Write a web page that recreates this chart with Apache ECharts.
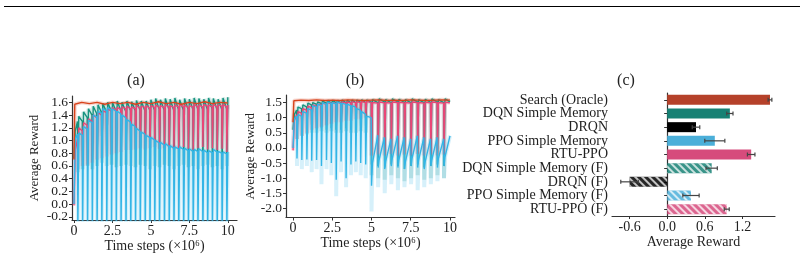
<!DOCTYPE html>
<html>
<head>
<meta charset="utf-8">
<script src="https://cdn.jsdelivr.net/npm/echarts/dist/echarts.min.js"></script>
<style>
    body { margin: 0; background: #fff; }
    #chart { width: 804px; height: 256px; }
</style>
</head>
<body>
<div id="chart"></div>
<script>
// ---- panel (a) ----
var resetsA = [0.25, 0.56, 0.88, 1.19, 1.5, 1.81, 2.13, 2.44, 2.75, 3.06, 3.38, 3.69, 4.0, 4.31, 4.63, 4.94,
    5.25, 5.56, 5.88, 6.19, 6.5, 6.81, 7.13, 7.44, 7.75, 8.06, 8.38, 8.69, 9.0, 9.31, 9.63, 9.94];

var ppoStartA = [[0, 0.0], [0.08, 1.02], [0.23, 1.1]];
var ppoLoA = [-0.35, -0.4, -0.45, -0.4, -0.5, -0.45, -0.4, -0.5, -0.45, -0.4, -0.45, -0.5, -0.4, -0.45, -0.5, -0.4,
    -0.45, -0.4, -0.5, -0.45, -0.4, -0.45, -0.5, -0.4, -0.45, -0.4, -0.5, -0.45, -0.4, -0.45, -0.5, -0.4];
var ppoHiA = [1.12, 1.22, 1.32, 1.4, 1.46, 1.5, 1.52, 1.5, 1.46, 1.4, 1.33, 1.26, 1.19, 1.13, 1.08, 1.05,
    1.0, 0.97, 0.95, 0.92, 0.9, 0.9, 0.88, 0.87, 0.86, 0.87, 0.85, 0.84, 0.86, 0.83, 0.82, 0.82];
var ppoPreA = [1.08, 1.18, 1.28, 1.37, 1.43, 1.47, 1.48, 1.46, 1.42, 1.36, 1.29, 1.22, 1.15, 1.1, 1.05, 1.01,
    0.96, 0.93, 0.91, 0.88, 0.87, 0.86, 0.84, 0.83, 0.83, 0.83, 0.81, 0.81, 0.82, 0.8, 0.79, 0.8];

var rtuStartA = [[0, -0.02], [0.08, 0.85], [0.23, 1.02]];
var rtuLoA = [0.55, 0.6, 0.62, 0.65, 0.7, 0.72, 0.75, 0.78, 0.8, 0.82, 0.85, 0.85, 0.86, 0.88, 0.86, 0.88,
    0.9, 0.87, 0.88, 0.9, 0.86, 0.88, 0.9, 0.87, 0.85, 0.88, 0.9, 0.86, 0.88, 0.85, 0.87, 0.82];
var rtuHiA = [1.2, 1.28, 1.34, 1.4, 1.44, 1.47, 1.5, 1.52, 1.52, 1.53, 1.54, 1.53, 1.55, 1.54, 1.55, 1.55,
    1.56, 1.55, 1.56, 1.55, 1.56, 1.57, 1.56, 1.55, 1.57, 1.56, 1.57, 1.56, 1.57, 1.56, 1.57, 1.56];
var rtuPreA = [1.15, 1.24, 1.3, 1.36, 1.4, 1.44, 1.46, 1.48, 1.49, 1.5, 1.5, 1.5, 1.51, 1.52, 1.51, 1.52,
    1.52, 1.52, 1.53, 1.52, 1.53, 1.53, 1.52, 1.53, 1.53, 1.53, 1.54, 1.53, 1.53, 1.54, 1.53, 1.54];

var dqnStartA = [[0, 0.72], [0.08, 1.15], [0.23, 1.3]];
var dqnLoA = [0.5, 0.55, 0.6, 0.55, 0.6, 0.65, 0.6, 0.62, 0.58, 0.6, 0.62, 0.6, 0.58, 0.62, 0.6, 0.55,
    0.6, 0.58, 0.62, 0.6, 0.55, 0.6, 0.62, 0.58, 0.6, 0.55, 0.6, 0.62, 0.58, 0.6, 0.55, 0.6];
var dqnHiA = [1.38, 1.45, 1.5, 1.54, 1.56, 1.58, 1.6, 1.6, 1.62, 1.6, 1.62, 1.61, 1.63, 1.62, 1.62, 1.64,
    1.66, 1.64, 1.66, 1.65, 1.67, 1.64, 1.66, 1.65, 1.67, 1.66, 1.65, 1.67, 1.66, 1.65, 1.67, 1.68];
var dqnPreA = [1.3, 1.36, 1.4, 1.42, 1.44, 1.45, 1.46, 1.46, 1.47, 1.46, 1.47, 1.47, 1.48, 1.47, 1.48, 1.48,
    1.49, 1.48, 1.49, 1.48, 1.49, 1.48, 1.49, 1.49, 1.5, 1.49, 1.49, 1.5, 1.49, 1.49, 1.5, 1.5];

var oracleStepsA = [0, 0.05, 0.5, 1, 1.5, 2, 2.5, 3, 3.5, 4, 4.5, 5, 5.5, 6, 6.5, 7, 7.5, 8, 8.5, 9, 9.5, 10];
var oracleA = [0.7, 1.57, 1.6, 1.58, 1.6, 1.57, 1.6, 1.58, 1.6, 1.57, 1.6, 1.58, 1.61, 1.58, 1.6, 1.57, 1.6, 1.58, 1.61, 1.58, 1.6, 1.59];

// ---- panel (b) ----
var resetsB = [0.25, 0.56, 0.88, 1.19, 1.5, 1.81, 2.13, 2.44, 2.75, 3.06, 3.38, 3.69, 4.0, 4.31, 4.63,
    5.0, 5.42, 5.84, 6.26, 6.68, 7.1, 7.52, 7.94, 8.36, 8.78, 9.2, 9.62];

var ppoStartB = [[0, 0.0], [0.08, 0.95], [0.23, 1.05]];
var ppoLoB = [-0.35, -0.4, -0.38, -0.42, -0.4, -0.6, -0.4, -0.5, -1.05, -0.45, -1.0, -0.55, -0.45, -0.5, -0.55,
    -1.25, -0.65, -0.7, -0.6, -0.65, -0.7, -0.6, -0.65, -0.7, -0.6, -0.65, -0.6];
var ppoBandLoB = [-0.6, -0.7, -0.6, -0.8, -0.7, -1.2, -0.7, -0.9, -1.6, -0.8, -1.3, -0.9, -0.8, -0.9, -1.0,
    -2.1, -1.3, -1.5, -1.2, -1.4, -1.3, -1.2, -1.4, -1.3, -1.2, -1.1, -1.0];
var ppoHiB = [1.1, 1.2, 1.3, 1.4, 1.45, 1.5, 1.52, 1.5, 1.52, 1.48, 1.45, 1.4, 1.3, 1.2, 1.05,
    -0.5, -0.4, -0.45, -0.35, -0.4, -0.45, -0.35, -0.4, -0.45, -0.4, -0.35, -0.3];
var ppoPreB = [1.05, 1.15, 1.25, 1.35, 1.4, 1.45, 1.47, 1.46, 1.47, 1.44, 1.4, 1.35, 1.25, 1.12, 1.0,
    0.42, 0.35, 0.3, 0.4, 0.35, 0.3, 0.4, 0.35, 0.3, 0.35, 0.3, 0.4];

var rtuStartB = [[0, -0.08], [0.08, 0.9], [0.23, 1.1]];
var rtuLoB = [0.3, 0.4, 0.5, 0.6, 0.65, 0.7, 0.75, 0.8, 0.85, 0.85, 0.9, 0.9, 0.95, 0.95, 1.0,
    -0.25, -0.22, -0.25, -0.2, -0.25, -0.22, -0.25, -0.2, -0.25, -0.22, -0.25, -0.22];
var rtuHiB = [1.2, 1.3, 1.38, 1.42, 1.45, 1.48, 1.5, 1.5, 1.51, 1.52, 1.52, 1.53, 1.53, 1.54, 1.54,
    1.5, 1.52, 1.5, 1.52, 1.51, 1.5, 1.52, 1.5, 1.51, 1.52, 1.5, 1.51];
var rtuPreB = [1.15, 1.25, 1.33, 1.38, 1.42, 1.45, 1.47, 1.47, 1.48, 1.49, 1.49, 1.5, 1.5, 1.5, 1.5,
    1.48, 1.49, 1.48, 1.5, 1.49, 1.48, 1.5, 1.48, 1.49, 1.5, 1.48, 1.49];

var dqnStartB = [[0, 0.6], [0.08, 1.1], [0.23, 1.25]];
var dqnLoB = [0.4, 0.5, 0.55, 0.6, 0.6, 0.65, 0.6, 0.65, 0.6, 0.6, 0.65, 0.6, 0.6, 0.65, 0.6,
    -0.55, -0.6, -0.65, -0.55, -0.6, -0.7, -0.6, -0.55, -0.65, -0.6, -0.55, -0.6];
var dqnBandLoB = [0.3, 0.4, 0.45, 0.5, 0.5, 0.55, 0.5, 0.55, 0.5, 0.5, 0.55, 0.5, 0.5, 0.55, 0.5,
    -0.9, -1.0, -1.05, -0.9, -1.0, -1.1, -1.0, -0.9, -1.05, -1.0, -0.9, -1.0];
var dqnHiB = [1.35, 1.42, 1.48, 1.5, 1.52, 1.55, 1.56, 1.57, 1.56, 1.58, 1.57, 1.58, 1.58, 1.59, 1.58,
    1.6, 1.62, 1.6, 1.62, 1.61, 1.6, 1.62, 1.6, 1.61, 1.62, 1.6, 1.62];
var dqnPreB = [1.3, 1.36, 1.42, 1.45, 1.47, 1.48, 1.49, 1.5, 1.49, 1.5, 1.5, 1.5, 1.51, 1.5, 1.51,
    1.5, 1.52, 1.5, 1.52, 1.51, 1.5, 1.52, 1.5, 1.51, 1.52, 1.5, 1.52];

var oracleStepsB = [0, 0.05, 0.5, 1, 1.5, 2, 2.5, 3, 3.5, 4, 4.5, 5, 5.5, 6, 6.5, 7, 7.5, 8, 8.5, 9, 9.5, 10];
var oracleB = [0.85, 1.56, 1.58, 1.57, 1.59, 1.57, 1.58, 1.57, 1.59, 1.58, 1.57, 1.58, 1.59, 1.57, 1.58, 1.57, 1.59, 1.58, 1.57, 1.58, 1.59, 1.58];

// tick labels
var ticksTimeSteps = [0, 2.5, 5, 7.5, 10];
var ticksRewardA = [-0.2, 0, 0.2, 0.4, 0.6, 0.8, 1.0, 1.2, 1.4, 1.6];
var ticksRewardB = [-2, -1.5, -1, -0.5, 0, 0.5, 1, 1.5];
var ticksRewardC = [-0.6, 0, 0.6, 1.2];

// ---- panel (c) ----
var barLabels = ['Search (Oracle)', 'DQN Simple Memory', 'DRQN', 'PPO Simple Memory', 'RTU-PPO',
    'DQN Simple Memory (F)', 'DRQN (F)', 'PPO Simple Memory (F)', 'RTU-PPO (F)'];
var barValues = [1.64, 1.0, 0.46, 0.76, 1.34, 0.71, -0.6, 0.38, 0.95];
var barErrors = [0.03, 0.05, 0.06, 0.16, 0.06, 0.09, 0.14, 0.13, 0.04];
var barColors = ['#b5412a', '#168174', '#000000', '#4bafd9', '#d64b7c', '#168174', '#000000', '#4bafd9', '#d64b7c'];
var barHatched = [false, false, false, false, false, true, true, true, true];

var FONT = 'Liberation Serif';
var RISE = 0.06, GAP = 0.02;
var COL = { oracle: '#d8431c', dqn: '#17937f', rtu: '#ea4677', ppo: '#33b5e6' };

function buildCurve(start, resets, lo, hi, pre) {
    var pts = start.slice();
    for (var k = 0; k < resets.length; k++) {
        var r = resets[k];
        var next = k + 1 < resets.length ? resets[k + 1] : 10.05;
        pts.push([r, lo[k]]);
        pts.push([Math.min(r + RISE, 10), hi[k]]);
        pts.push([Math.min(next - GAP, 10), pre[k]]);
    }
    return pts;
}

function zip(xs, ys) {
    var out = [];
    for (var i = 0; i < xs.length; i++) out.push([xs[i], ys[i]]);
    return out;
}

function lineSeries(idx, data, color, z) {
    return {
        type: 'line', xAxisIndex: idx, yAxisIndex: idx, data: data,
        showSymbol: false, symbol: 'none', animation: false, z: z,
        lineStyle: { color: color, width: 1.4 }
    };
}

function bandSeries(idx, data, color) {
    return {
        type: 'line', xAxisIndex: idx, yAxisIndex: idx, data: data,
        showSymbol: false, symbol: 'none', animation: false, z: 1, silent: true,
        lineStyle: { color: color, width: 4, opacity: 0.2 }
    };
}

function valueAxis(idx, min, max, ticks, decimals) {
    return {
        type: 'value', gridIndex: idx, min: min, max: max,
        splitLine: { show: false },
        axisLine: { show: true, onZero: false, lineStyle: { color: '#333', width: 1.2 } },
        axisTick: { show: true, length: 3, customValues: ticks, lineStyle: { color: '#333' } },
        axisLabel: {
            customValues: ticks, fontFamily: FONT, fontSize: 14, color: '#222', margin: 4,
            hideOverlap: false, showMinLabel: true, showMaxLabel: true,
            formatter: function (v) { return decimals ? v.toFixed(1) : String(v); }
        }
    };
}

var seriesList = [];
// panel a
var curvesA = [
    [buildCurve(dqnStartA, resetsA, dqnLoA, dqnHiA, dqnPreA), COL.dqn, 3],
    [buildCurve(rtuStartA, resetsA, rtuLoA, rtuHiA, rtuPreA), COL.rtu, 4],
    [buildCurve(ppoStartA, resetsA, ppoLoA, ppoHiA, ppoPreA), COL.ppo, 5],
    [zip(oracleStepsA, oracleA), COL.oracle, 6]
];
curvesA.forEach(function (c) {
    seriesList.push(bandSeries(0, c[0], c[1]));
    seriesList.push(lineSeries(0, c[0], c[1], c[2]));
});
// panel b
seriesList.push(bandSeries(1, buildCurve(dqnStartB, resetsB, dqnBandLoB, dqnHiB, dqnPreB), COL.dqn));
seriesList.push(bandSeries(1, buildCurve(ppoStartB, resetsB, ppoBandLoB, ppoHiB, ppoPreB), COL.ppo));
seriesList.push(bandSeries(1, buildCurve(rtuStartB, resetsB, rtuLoB, rtuHiB, rtuPreB), COL.rtu));
seriesList.push(bandSeries(1, zip(oracleStepsB, oracleB), COL.oracle));
seriesList.push(lineSeries(1, buildCurve(dqnStartB, resetsB, dqnLoB, dqnHiB, dqnPreB), COL.dqn, 3));
seriesList.push(lineSeries(1, buildCurve(rtuStartB, resetsB, rtuLoB, rtuHiB, rtuPreB), COL.rtu, 4));
seriesList.push(lineSeries(1, buildCurve(ppoStartB, resetsB, ppoLoB, ppoHiB, ppoPreB), COL.ppo, 5));
seriesList.push(lineSeries(1, zip(oracleStepsB, oracleB), COL.oracle, 6));

// panel c
var hatch = {
    symbol: 'rect', symbolSize: 1, dashArrayX: [1, 0], dashArrayY: [2, 2.2],
    rotation: Math.PI / 4, color: 'rgba(255,255,255,0.85)'
};
var barData = barValues.map(function (v, i) {
    var item = { value: v, itemStyle: { color: barColors[i] } };
    if (barHatched[i]) {
        item.itemStyle.decal = hatch;
        item.itemStyle.opacity = 0.85;
    }
    return item;
});
seriesList.push({
    type: 'bar', xAxisIndex: 2, yAxisIndex: 2, data: barData, barWidth: 10, animation: false
});
seriesList.push({
    type: 'custom', xAxisIndex: 2, yAxisIndex: 2, animation: false, z: 10,
    data: barValues.map(function (v, i) { return [v, i, barErrors[i]]; }),
    renderItem: function (params, api) {
        var v = api.value(0), c = api.value(1), e = api.value(2);
        var p1 = api.coord([v - e, c]), p2 = api.coord([v + e, c]);
        var st = { stroke: '#444', lineWidth: 1.2 };
        return {
            type: 'group', children: [
                { type: 'line', shape: { x1: p1[0], y1: p1[1], x2: p2[0], y2: p2[1] }, style: st },
                { type: 'line', shape: { x1: p1[0], y1: p1[1] - 2, x2: p1[0], y2: p1[1] + 2 }, style: st },
                { type: 'line', shape: { x1: p2[0], y1: p2[1] - 2, x2: p2[0], y2: p2[1] + 2 }, style: st }
            ]
        };
    }
});

var nameStyle = { fontFamily: FONT, fontSize: 14, color: '#222' };
var sideNameStyle = { fontFamily: FONT, fontSize: 13, color: '#222' };
var titleStyle = { fontFamily: FONT, fontSize: 16, fontWeight: 'normal', color: '#222' };

var xa = valueAxis(0, -0.13, 10.6, ticksTimeSteps, false);
xa.name = 'Time steps (×10⁶)'; xa.nameLocation = 'middle'; xa.nameGap = 17; xa.nameTextStyle = nameStyle;
var xb = valueAxis(1, -0.45, 10.32, ticksTimeSteps, false);
xb.name = 'Time steps (×10⁶)'; xb.nameLocation = 'middle'; xb.nameGap = 17; xb.nameTextStyle = nameStyle;
var xc = valueAxis(2, -0.88, 1.72, ticksRewardC, true);
xc.name = 'Average Reward'; xc.nameLocation = 'middle'; xc.nameGap = 16; xc.nameTextStyle = nameStyle;

// (a) labels are tight: split them over two axes so none get dropped
var ya = valueAxis(0, -0.25, 1.7, ticksRewardA, true);
ya.axisLabel.customValues = ticksRewardA.filter(function (v, i) { return i % 2 === 0; });
ya.axisLabel.fontSize = 13.5;
ya.name = 'Average Reward'; ya.nameLocation = 'middle'; ya.nameGap = 31; ya.nameTextStyle = sideNameStyle;
var ya2 = valueAxis(0, -0.25, 1.7, ticksRewardA, true);
ya2.axisLabel.customValues = ticksRewardA.filter(function (v, i) { return i % 2 === 1; });
ya2.axisLabel.fontSize = 13.5;
ya2.position = 'left';
ya2.axisLine.show = false;
ya2.axisTick.show = false;

var yb = valueAxis(1, -2.3, 1.75, ticksRewardB, true);
yb.axisLabel.fontSize = 13.5;
yb.name = 'Average Reward'; yb.nameLocation = 'middle'; yb.nameGap = 26; yb.nameTextStyle = sideNameStyle;
var yc = {
    type: 'category', gridIndex: 2, data: barLabels, inverse: true,
    axisLine: { show: true, lineStyle: { color: '#333', width: 1.2 } },
    axisTick: { show: true, length: 3, alignWithLabel: true, interval: 0, lineStyle: { color: '#333' } },
    axisLabel: { fontFamily: FONT, fontSize: 14, lineHeight: 12, color: '#222', margin: 4, interval: 0, hideOverlap: false }
};

var chart = echarts.init(document.getElementById('chart'), null, { renderer: 'canvas' });
chart.setOption({
    backgroundColor: '#fff',
    animation: false,
    title: [
        { text: '(a)', left: 131, top: 68, textAlign: 'center', textStyle: titleStyle },
        { text: '(b)', left: 350, top: 68, textAlign: 'center', textStyle: titleStyle },
        { text: '(c)', left: 621, top: 68, textAlign: 'center', textStyle: titleStyle }
    ],
    graphic: [{
        type: 'line', shape: { x1: 4, y1: 6.5, x2: 800, y2: 6.5 },
        style: { stroke: '#000', lineWidth: 1 }
    }],
    grid: [
        { left: 72, top: 96, width: 165, height: 124 },
        { left: 286, top: 95, width: 169, height: 122.5 },
        { left: 612, top: 93, width: 163, height: 123 }
    ],
    xAxis: [xa, xb, xc],
    yAxis: [ya, yb, yc, ya2],
    series: seriesList
});
</script>
</body>
</html>
